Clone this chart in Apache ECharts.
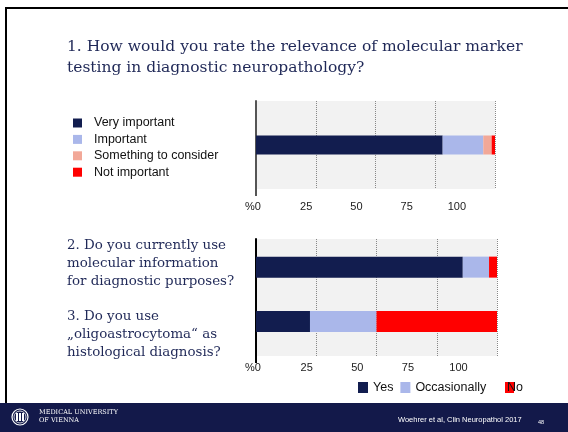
<!DOCTYPE html>
<html>
<head>
<meta charset="utf-8">
<script src="https://cdn.jsdelivr.net/npm/echarts@6/dist/echarts.min.js"></script>
<style>
  html, body { margin: 0; padding: 0; background: #fff; }
  #chart { width: 568px; height: 432px; }
</style>
</head>
<body>
<div id="chart"></div>
<script>
// question 1: relevance of molecular marker testing (%)
const q1Categories = ["Q1"];
const q1Names = ["Very important", "Important", "Something to consider", "Not important"];
const q1Values = [78.1, 17.0, 3.5, 1.4];

// questions 2 and 3 (%)
const q23Categories = ["Q2", "Q3"];
const answerNames = ["Yes", "Occasionally", "No"];
const yesValues = [85.8, 22.4];
const occasionallyValues = [10.9, 27.6];
const noValues = [3.3, 50.0];

const tickLabels = [0, 25, 50, 75, 100];

const q1Colors = ["#121d4f", "#aab7ea", "#f2a898", "#ff0000"];
const answerColors = ["#121d4f", "#aab7ea", "#ff0000"];
const navy = "#1f2857";
const serif = "DejaVu Serif";
const sans = "Liberation Sans";

const chart = echarts.init(document.getElementById("chart"));

const gridLine = { show: true, lineStyle: { color: "#888", type: "dotted", width: 1 } };
const tickFmt = (v) => (tickLabels.indexOf(v) === 0 ? "{p|%0}" : tickLabels.indexOf(v) > 0 ? String(v) : "");
const labelAxis = (grid, margin) => ({
  type: "value", gridIndex: grid, min: 0, max: 119, interval: 25, position: "bottom",
  axisLine: { show: false }, axisTick: { show: false }, splitLine: { show: false },
  axisLabel: {
    margin: margin, color: "#222", fontFamily: sans, fontSize: 11, showMaxLabel: false,
    formatter: tickFmt, rich: { p: { fontFamily: sans, fontSize: 11, color: "#222", padding: [0, 6, 0, 0] } }
  }
});

const option = {
  animation: false,
  backgroundColor: "#fff",
  title: [
    {
      text: "1. How would you rate the relevance of molecular marker\ntesting in diagnostic neuropathology?",
      left: 62, top: 31,
      textStyle: { fontFamily: serif, fontSize: 15.5, fontWeight: "normal", color: navy, lineHeight: 21 }
    },
    {
      text: "2. Do you currently use\nmolecular information\nfor diagnostic purposes?",
      left: 62, top: 232,
      textStyle: { fontFamily: serif, fontSize: 13.4, fontWeight: "normal", color: navy, lineHeight: 18 }
    },
    {
      text: "3. Do you use\n\u201Eoligoastrocytoma\u201C as\nhistological diagnosis?",
      left: 62, top: 303,
      textStyle: { fontFamily: serif, fontSize: 13.4, fontWeight: "normal", color: navy, lineHeight: 18 }
    }
  ],
  legend: [
    {
      data: q1Names, orient: "vertical", left: 73, top: 116, padding: 0,
      itemWidth: 9, itemHeight: 9, itemGap: 2.4, icon: "rect",
      textStyle: { fontFamily: sans, fontSize: 12.5, color: "#111", lineHeight: 14, padding: [0, 0, 0, 7] }
    },
    {
      data: answerNames.slice(0, 2), orient: "horizontal", left: 358, top: 381, padding: 0,
      itemWidth: 10, itemHeight: 11, itemGap: 7, icon: "rect",
      textStyle: { fontFamily: sans, fontSize: 12.5, color: "#111" }
    },
    {
      data: answerNames.slice(2), orient: "horizontal", left: 505, top: 381, padding: 0,
      itemWidth: 9, itemHeight: 11, icon: "rect",
      textStyle: { fontFamily: sans, fontSize: 12.5, color: "#111", padding: [0, 0, 0, -12] }
    }
  ],
  grid: [
    { left: 256, top: 101, width: 239, height: 88, show: true, backgroundColor: "#f2f2f2", borderWidth: 0 },
    { left: 256, top: 239, width: 241, height: 117, show: true, backgroundColor: "#f2f2f2", borderWidth: 0 },
    { left: 256, top: 240, width: 241, height: 108.5, borderWidth: 0 }
  ],
  xAxis: [
    { type: "value", gridIndex: 0, min: 0, max: 100, interval: 25, axisLine: { show: false }, axisTick: { show: false }, axisLabel: { show: false }, splitLine: gridLine },
    labelAxis(0, 12),
    { type: "value", gridIndex: 1, min: 0, max: 100, interval: 25, axisLine: { show: false }, axisTick: { show: false }, axisLabel: { show: false }, splitLine: gridLine },
    labelAxis(1, 6),
    { type: "value", gridIndex: 2, min: 0, max: 100, show: false, splitLine: { show: false } }
  ],
  yAxis: [
    { type: "category", gridIndex: 0, data: q1Categories, axisLine: { show: true, lineStyle: { color: "#555", width: 2 } }, axisTick: { show: false }, axisLabel: { show: false } },
    { type: "category", gridIndex: 1, data: [""], axisLine: { show: true, lineStyle: { color: "#000", width: 2 } }, axisTick: { show: false }, axisLabel: { show: false } },
    { type: "category", gridIndex: 2, data: q23Categories, inverse: true, show: false }
  ],
  series: [
    ...q1Names.map((name, i) => ({
      name, type: "bar", stack: "q1", xAxisIndex: 0, yAxisIndex: 0, barWidth: 19,
      itemStyle: { color: q1Colors[i] }, data: [q1Values[i]]
    })),
    ...[yesValues, occasionallyValues, noValues].map((vals, i) => ({
      name: answerNames[i], type: "bar", stack: "q23", xAxisIndex: 4, yAxisIndex: 2, barWidth: 21,
      itemStyle: { color: answerColors[i] }, data: vals
    }))
  ],
  graphic: [
    // slide frame
    { type: "rect", shape: { x: 5, y: 7, width: 563, height: 2 }, style: { fill: "#000" } },
    { type: "rect", shape: { x: 5, y: 7, width: 2, height: 400 }, style: { fill: "#000" } },
    // axis line overhang below the plots
    { type: "line", shape: { x1: 256, y1: 189, x2: 256, y2: 196 }, style: { stroke: "#555", lineWidth: 2 } },
    { type: "line", shape: { x1: 256, y1: 356, x2: 256, y2: 363 }, style: { stroke: "#000", lineWidth: 2 } },
    // footer
    { type: "rect", shape: { x: 0, y: 403, width: 568, height: 29 }, style: { fill: "#13194a" } },
    { type: "circle", shape: { cx: 20, cy: 417, r: 8 }, style: { fill: "none", stroke: "#fff", lineWidth: 1.2 } },
    { type: "circle", shape: { cx: 20, cy: 417, r: 6 }, style: { fill: "none", stroke: "#fff", lineWidth: 0.8 } },
    { type: "rect", shape: { x: 16, y: 413, width: 2, height: 8 }, style: { fill: "#fff" } },
    { type: "rect", shape: { x: 19, y: 413, width: 2, height: 8 }, style: { fill: "#fff" } },
    { type: "rect", shape: { x: 22, y: 413, width: 2, height: 8 }, style: { fill: "#fff" } },
    { type: "text", left: 39, top: 409, style: { text: "MEDICAL UNIVERSITY\nOF VIENNA", fill: "#fff", font: "6.5px 'DejaVu Serif'", lineHeight: 7.5 } },
    { type: "text", left: 398, top: 416, style: { text: "Woehrer et al, Clin Neuropathol 2017", fill: "#fff", font: "7.5px 'Liberation Sans'" } },
    { type: "text", left: 538, top: 419, style: { text: "48", fill: "#fff", font: "5.5px 'Liberation Sans'" } }
  ]
};

chart.setOption(option);
</script>
</body>
</html>
